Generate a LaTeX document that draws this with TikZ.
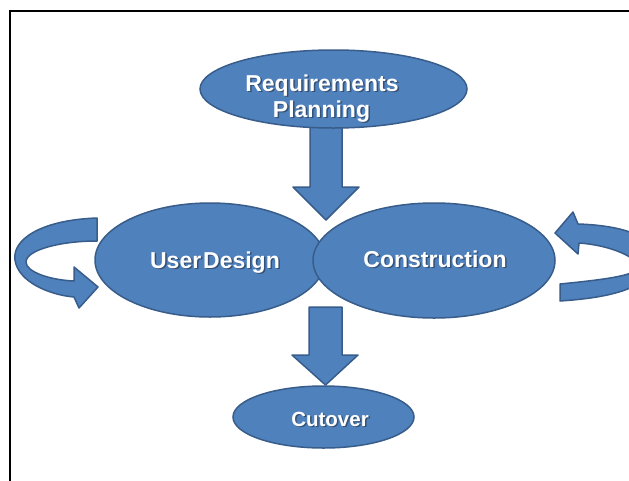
\documentclass[tikz,border=0pt]{standalone}
\usepackage{fontspec}
\setmainfont{Liberation Sans}
\usetikzlibrary{shapes.geometric}
\definecolor{fillblue}{RGB}{79,129,189}
\definecolor{lineblue}{RGB}{56,93,138}
\definecolor{shadowc}{RGB}{30,40,60}
\begin{document}
\begin{tikzpicture}[x=1pt,y=-1pt,
  ellbox/.style={ellipse, draw=lineblue, fill=fillblue, line width=1.5pt, inner sep=0pt},
  shapefill/.style={draw=lineblue, fill=fillblue, line width=1.5pt, line join=round},
  wtxt/.style={text=white, font=\bfseries\fontsize{23}{26}\selectfont, anchor=base, inner sep=0pt},
  stxt/.style={wtxt, text=shadowc, opacity=0.55},
  frameline/.style={line width=2pt, black}
]
\useasboundingbox (0,0) rectangle (629,480);
\fill[white] (0,0) rectangle (629,480);
\draw[frameline] (10,481) -- (10,11) -- (631,11);

% left curved arrow
\path[shapefill] (97,218) .. controls (40,220) and (12,240) .. (15,260)
  .. controls (18,282) and (50,295) .. (74,297) -- (79,308) -- (98,287) -- (74,267) -- (74,281)
  .. controls (50,280) and (26,272) .. (26,262)
  .. controls (26,250) and (60,241) .. (97,241) -- cycle;

% right curved arrow
\path[shapefill] (560,301) .. controls (605,298) and (650,290) .. (655,262)
  .. controls (660,245) and (640,226) .. (578,224) -- (573,212) -- (555,233) -- (578,254) -- (579,243)
  .. controls (610,245) and (640,258) .. (638,268)
  .. controls (635,276) and (600,280) .. (560,284) -- cycle;

% down arrow from requirements
\path[shapefill] (310,110) -- (342,110) -- (342,187) -- (359,187) -- (326,220) -- (293,187) -- (310,187) -- cycle;

% ellipses
\node[ellbox, minimum width=267pt, minimum height=78pt] (req) at (333.5,89) {};
\node[ellbox, minimum width=230pt, minimum height=114pt] (ud) at (210,260) {};
\node[ellbox, minimum width=242pt, minimum height=115pt] (con) at (434,260.5) {};

% down arrow to cutover
\path[shapefill] (309,307) -- (342,307) -- (342,355) -- (358,355) -- (325.5,385) -- (292,355) -- (309,355) -- cycle;

\node[ellbox, minimum width=181pt, minimum height=62pt] (cut) at (323.5,417) {};

% texts
\node[stxt] (reqs1) at (323.5,92.5) {Requirements};
\node[wtxt] (req1) at (322,91) {Requirements};
\node[stxt] (reqs2) at (323,118.5) {Planning};
\node[wtxt] (req2) at (321.5,117) {Planning};

\node[stxt] (uds) at (216.5,269.5) {User\hspace{-4.5pt} Design};
\node[wtxt] (udt) at (215,268) {User\hspace{-4.5pt} Design};

\node[stxt] (cons) at (436.5,268.5) {Construction};
\node[wtxt] (cont) at (435,267) {Construction};

\node[stxt, font=\bfseries\fontsize{20.5}{24}\selectfont] (cuts) at (331.5,427.5) {Cutover};
\node[wtxt, font=\bfseries\fontsize{20.5}{24}\selectfont] (cutt) at (330,426) {Cutover};
\end{tikzpicture}
\end{document}
